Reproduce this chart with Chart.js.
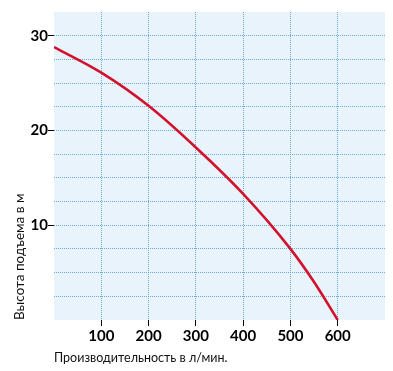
<!DOCTYPE html>
<html>
<head>
<meta charset="utf-8">
<script src="https://cdn.jsdelivr.net/npm/chart.js@4.4.1/dist/chart.umd.min.js"></script>
<style>
  html,body{margin:0;padding:0;background:#fff;}
  canvas{display:block;}
</style>
</head>
<body>
<canvas id="chart" width="393" height="371"></canvas>
<script>
// flow rate (l/min) and head (m)
const flow = [0, 100, 200, 300, 400, 500, 550, 600];
const head = [28.8, 26.1, 22.6, 18.2, 13.3, 7.5, 4.0, 0];
const xLabels = [100, 200, 300, 400, 500, 600];
const yLabels = [10, 20, 30];

const GRID = '#6eaad9';

const plotBg = {
  id: 'plotBg',
  beforeDraw(chart){
    const {ctx, chartArea:a} = chart;
    ctx.save();
    ctx.fillStyle = '#e8f3fb';
    ctx.fillRect(a.left, a.top, a.right - a.left, a.bottom - a.top);
    ctx.restore();
  }
};

new Chart(document.getElementById('chart'), {
  type: 'line',
  data: {
    datasets: [{
      data: flow.map((x,i)=>({x, y: head[i]})),
      borderColor: '#d2112c',
      borderWidth: 2.6,
      pointRadius: 0,
      fill: false,
      cubicInterpolationMode: 'monotone'
    }]
  },
  options: {
    responsive: false,
    animation: false,
    layout: { padding: { left: 0, right: 8, top: 12, bottom: 0 } },
    plugins: { legend: { display: false }, tooltip: { enabled: false } },
    scales: {
      x: {
        type: 'linear', min: 0, max: 700,
        afterFit: s => { s.height = 51; },
        border: { display: false, dash: [1, 1] },
        grid: {
          drawTicks: true, tickLength: 6,
          color: c => xLabels.includes(c.tick.value) ? GRID : 'transparent',
          tickColor: c => xLabels.includes(c.tick.value) ? '#000' : 'transparent',
          tickBorderDash: [], lineWidth: 1
        },
        ticks: {
          stepSize: 100, padding: 1, color: '#000', maxRotation: 0,
          font: { family: 'Lato', size: 15, weight: 'bold' },
          callback: v => xLabels.includes(v) ? String(v) : ''
        },
        title: {
          display: true, align: 'start', text: 'Производительность в л/мин.',
          color: '#111', font: { family: 'Lato', size: 12.5 },
          padding: { top: 0, bottom: 6 }
        }
      },
      y: {
        min: 0, max: 32.5,
        afterFit: s => { s.width = 54; },
        border: { display: false, dash: [1, 1] },
        grid: {
          drawTicks: true, tickLength: 6,
          color: c => (c.tick.value > 0 && c.tick.value < 32.5) ? GRID : 'transparent',
          tickColor: c => yLabels.includes(c.tick.value) ? '#000' : 'transparent',
          tickBorderDash: [], lineWidth: 1
        },
        ticks: {
          stepSize: 2.5, padding: 0, color: '#000',
          font: { family: 'Lato', size: 15, weight: 'bold' },
          callback: v => yLabels.includes(v) ? String(v) : ''
        },
        title: {
          display: true, align: 'start', text: 'Высота подъема в м',
          color: '#111', font: { family: 'Lato', size: 13.5 },
          padding: { top: 12, bottom: 0 }
        }
      }
    }
  },
  plugins: [plotBg]
});
</script>
</body>
</html>
